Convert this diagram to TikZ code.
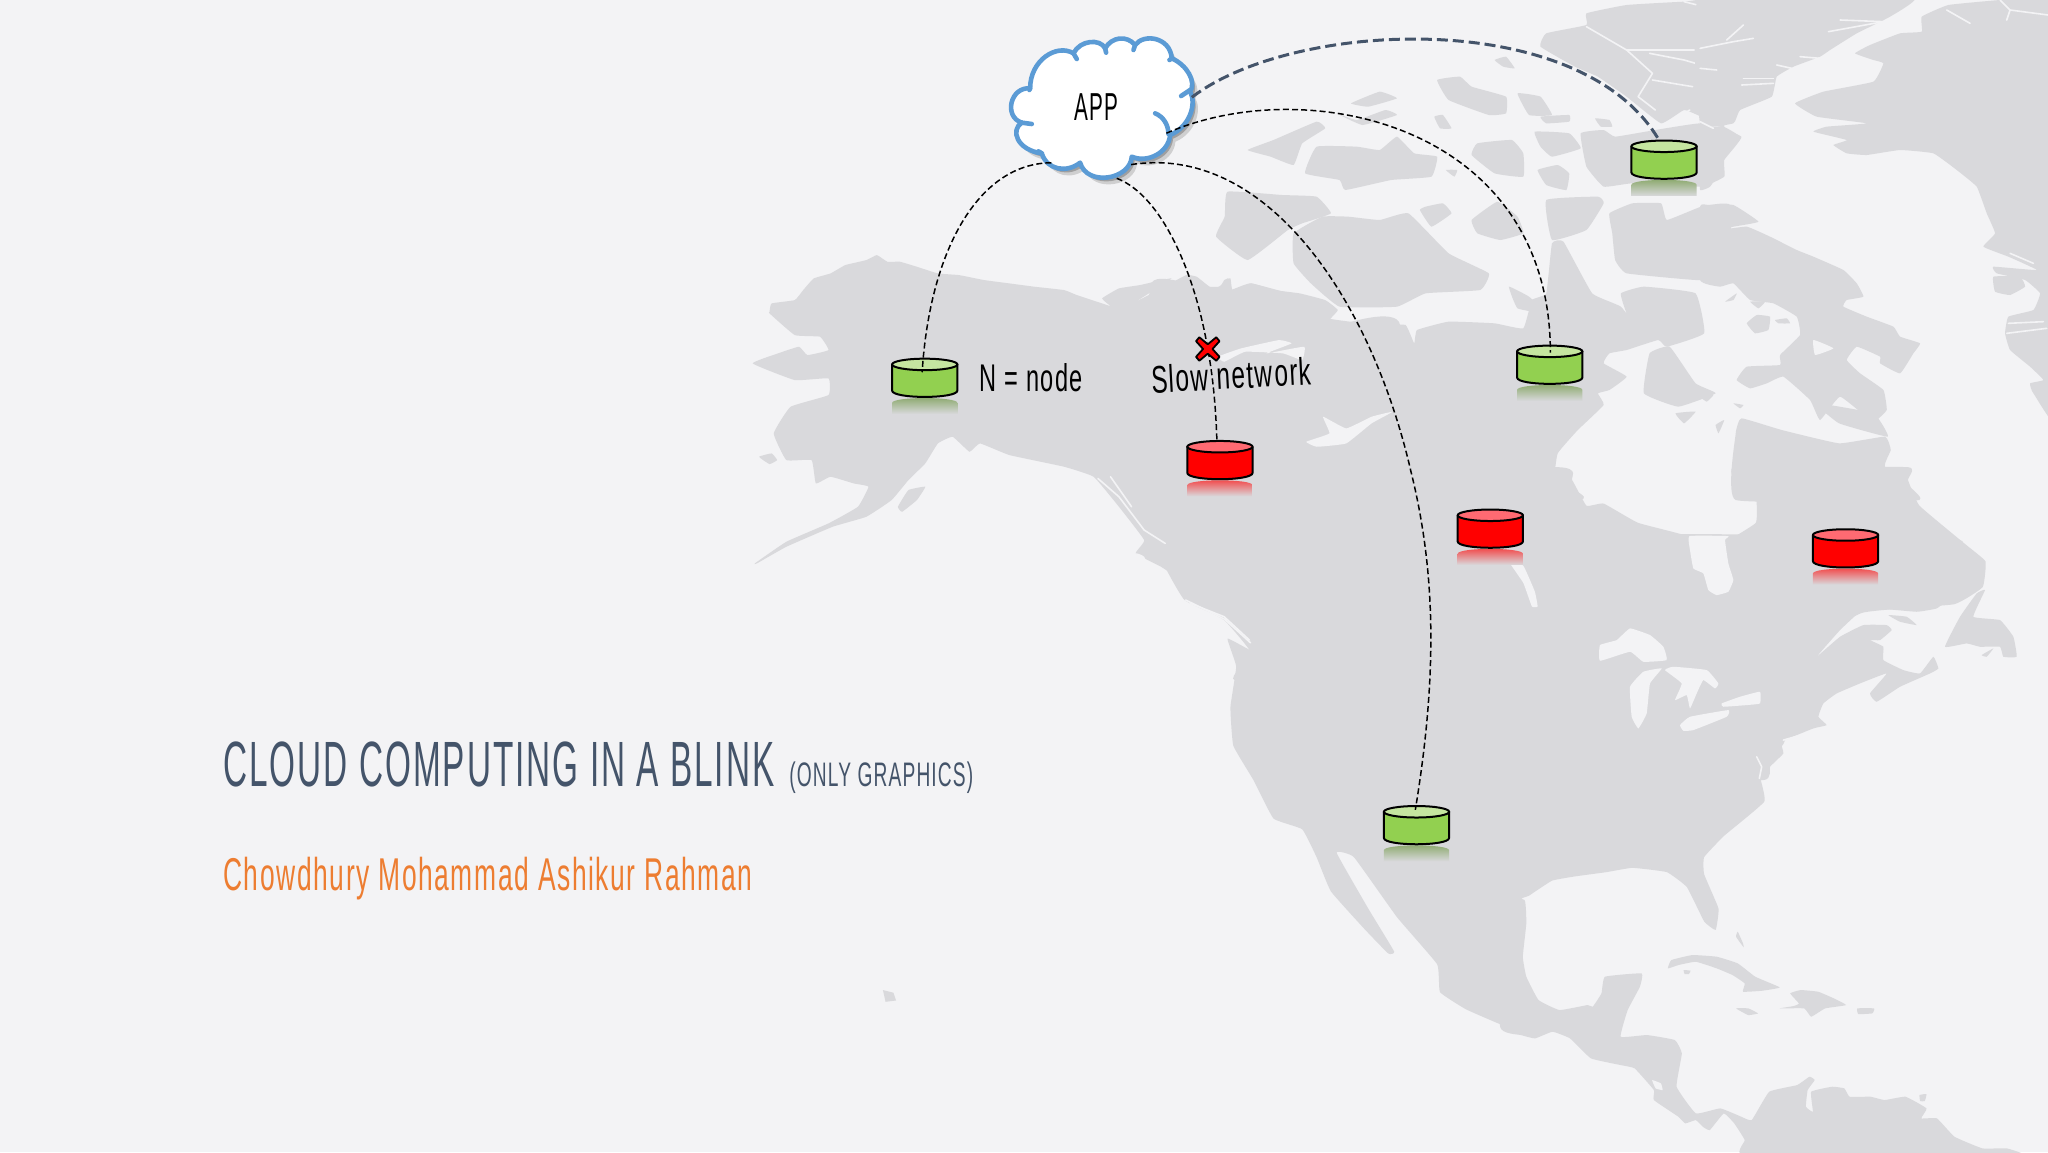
\documentclass[tikz,border=0pt]{standalone}
\usepackage{fontspec}
\usepackage{graphicx}
\setmainfont[LetterSpace=6]{Liberation Sans}
\definecolor{bgc}{HTML}{F3F3F5}
\definecolor{landc}{HTML}{D9D9DC}
\definecolor{slatec}{HTML}{44546A}
\definecolor{orangec}{HTML}{ED7D31}
\definecolor{cloudc}{HTML}{5B9BD5}
\definecolor{greenc}{HTML}{92D050}
\definecolor{greent}{HTML}{C5E5A0}
\definecolor{redc}{HTML}{FF0000}
\definecolor{redt}{HTML}{FF6A72}
\tikzset{
  land/.style={fill=landc},
  water/.style={fill=bgc},
  chan/.style={draw=bgc,line width=0.8pt,line cap=round,line join=round},
  cropA/.style={shift={(566.6,168.5)},xscale=.3223,yscale=.2552},
  cropB/.style={shift={(880.5,0)},xscale=.4396,yscale=.2552},
  cropC/.style={shift={(880.5,367.5)},xscale=.4396,yscale=.3281},
  cropD/.style={shift={(1301.6,0)},xscale=.2552,yscale=.2552},
  cropE/.style={shift={(750.4,7.66)},xscale=.2552,yscale=.2552},
  cropF/.style={shift={(1148.5,689.1)},xscale=.2676,yscale=.2552},
  cropG/.style={shift={(1225,413.5)},xscale=.2552,yscale=.2552},
  lbl/.style={inner sep=0pt,anchor=base west,text=black},
  thinlink/.style={draw=black,line width=0.75pt,dash pattern=on 3pt off 1.6pt},
  thicklink/.style={draw=slatec,line width=1.5pt,dash pattern=on 5.5pt off 2.5pt},
  cylbody/.style={draw=black,line width=1pt,line join=round},
}
\newcommand{\lnd}[1]{\fill[land] plot[smooth cycle,tension=.2] coordinates {#1};}
\newcommand{\wtr}[1]{\fill[water] plot[smooth cycle,tension=.2] coordinates {#1};}
\newcommand{\dbcyl}[6]{% name,x,y,fill,top,reflection
  \begin{scope}[shift={(#2,#3)}]
    \shade[top color=#6,bottom color=landc,draw=none]
      (-25,33) -- (-25,29.5) .. controls (-25,24.5) and (25,24.5) .. (25,29.5) -- (25,33) -- (25,38) -- (-25,38) -- cycle;
    \filldraw[cylbody,fill=#4] (-25,0) -- (-25,20) .. controls (-25,26.5) and (25,26.5) .. (25,20) -- (25,0) -- cycle;
    \filldraw[cylbody,fill=#5] (0,0) ellipse (25 and 4.4);
    \node[inner sep=0pt,minimum width=32.6pt,minimum height=19.6pt] (#1) at (0,11) {};
  \end{scope}}
\newcommand{\cloudshape}{(150,235) .. controls (150,150) and (230,100) .. (280,130)
  .. controls (300,90) and (360,85) .. (375,115)
  .. controls (395,80) and (440,75) .. (465,105)
  .. controls (490,70) and (570,80) .. (575,145)
  .. controls (620,165) and (650,215) .. (630,245)
  .. controls (650,280) and (630,350) .. (570,375)
  .. controls (565,430) and (500,460) .. (455,440)
  .. controls (450,510) and (320,530) .. (300,458)
  .. controls (260,490) and (200,480) .. (185,430)
  .. controls (110,420) and (90,360) .. (125,338)
  .. controls (70,320) and (90,230) .. (150,235) -- cycle}
\begin{document}
\begin{tikzpicture}[x=0.65306pt,y=-0.65306pt]
\useasboundingbox (0,0) rectangle (1568,882);
\fill[bgc] (0,0) rectangle (1568,882);
\clip (0,0) rectangle (1568,882);
% ---------- Alaska and the north west
\begin{scope}[cropA]
\lnd{(70,275)(75,250)(130,240)(150,210)(175,175)(215,160)(250,135)(300,120)(325,105)(350,125)(380,125)(420,140)(470,160)(520,165)(580,180)(640,190)(700,200)(770,210)(800,225)(860,250)(880,258)(860,235)(900,205)(950,195)(1025,175)(940,245)(1000,205)(1060,165)(1085,170)(1110,195)(1135,215)(1150,180)(1165,175)(1170,210)(1215,190)(1270,210)(1330,220)(1390,240)(1420,270)(1400,300)(1420,315)(1568,315)(1568,1380)(1175,1380)(1215,1300)(1150,1200)(1060,1140)(1070,1100)(1000,1040)(940,1000)(960,960)(900,860)(840,770)(770,740)(640,705)(570,670)(545,695)(505,650)(470,670)(440,730)(400,780)(360,840)(300,890)(220,920)(110,980)(40,1030)(35,1030)(110,965)(210,910)(280,860)(305,800)(270,790)(215,770)(180,790)(170,720)(110,720)(80,640)(120,560)(210,525)(210,475)(130,480)(30,430)(90,400)(140,380)(160,405)(210,390)(190,350)(130,345)(70,280)}
\lnd{(45,710)(75,700)(88,720)(70,732)}
\lnd{(375,860)(400,810)(440,800)(420,840)(385,875)}
\end{scope}
% ---------- Arctic islands and the north of the mainland
\begin{scope}[cropB]
\lnd{(0,1500)(0,860)(40,840)(75,860)(120,860)(135,835)(140,870)(175,850)(250,885)(310,955)(400,975)(445,975)(460,1030)(465,990)(520,965)(600,970)(650,985)(665,900)(690,880)(700,730)(720,725)(770,880)(820,920)(855,1000)(830,940)(820,880)(860,860)(950,880)(965,1000)(900,1040)(885,1020)(830,1050)(800,1060)(790,1090)(830,1130)(800,1170)(780,1180)(790,1215)(745,1290)(710,1360)(705,1440)(745,1500)}
\lnd{(1020,1500)(1020,1300)(1030,1255)(1100,1290)(1200,1330)(1280,1310)(1290,1350)(1280,1400)(1340,1500)}
\lnd{(170,450)(215,420)(290,365)(305,385)(265,430)(250,495)(210,470)}
\lnd{(270,520)(290,440)(360,440)(400,450)(430,410)(460,460)(500,470)(490,530)(420,540)(340,570)(330,540)}
\lnd{(350,310)(400,275)(430,295)(380,320)}
\lnd{(325,340)(360,360)(410,330)(430,345)(370,375)}
\lnd{(500,240)(540,230)(560,260)(620,290)(620,340)(590,345)(520,300)}
\lnd{(640,280)(680,290)(700,345)(660,345)}
\lnd{(600,180)(620,170)(635,205)(615,200)}
\lnd{(680,350)(730,345)(730,365)(690,370)}
\lnd{(495,350)(510,345)(525,385)(505,385)}
\lnd{(775,355)(800,360)(805,380)(785,380)}
\lnd{(670,395)(730,400)(750,445)(700,470)(680,440)}
\lnd{(570,430)(630,420)(650,460)(650,530)(600,520)(560,465)}
\lnd{(515,510)(535,510)(530,530)}
\lnd{(675,510)(710,495)(730,520)(725,570)(690,555)}
\lnd{(135,575)(230,585)(290,590)(315,640)(265,670)(240,690)(170,780)(115,710)(130,650)}
\lnd{(250,700)(300,650)(345,650)(400,660)(450,640)(520,760)(590,820)(575,870)(480,880)(430,920)(330,920)(280,850)(250,790)}
\lnd{(480,620)(510,610)(525,640)(490,680)(470,630)}
\lnd{(560,660)(605,605)(640,650)(650,700)(610,720)(570,700)}
\lnd{(690,600)(780,590)(790,610)(760,690)(700,720)}
\lnd{(625,860)(660,890)(690,940)(640,925)}
\lnd{(870,1060)(905,1040)(950,1150)(985,1180)(920,1220)(860,1180)}
\lnd{(915,1240)(950,1235)(930,1270)}
\lnd{(985,1275)(1000,1260)(990,1300)}
\lnd{(800,640)(840,610)(890,610)(900,660)(960,620)(1010,615)(1010,830)(950,840)(830,820)(810,780)(805,700)}
\lnd{(1160,1210)(1260,1240)(1285,1310)(1200,1270)}
\lnd{(690,100)(760,75)(760,40)(830,15)(930,5)(1000,5)(1000,380)(960,350)(930,330)(890,370)(830,290)(780,230)(740,200)(680,140)}
\lnd{(810,410)(880,390)(960,370)(1030,410)(1000,480)(1000,530)(960,560)(840,550)(790,560)(760,500)(750,400)(790,390)}
\draw[chan] (760,80) -- (830,150) -- (875,220) -- (850,290) -- (880,330);
\draw[chan] (830,150) -- (870,150) -- (950,150) -- (1050,110);
\draw[chan] (870,160) -- (930,180) -- (990,210);
\draw[chan] (875,240) -- (945,260);
\draw[chan] (930,5) -- (1000,35);
\draw[chan] (920,350) -- (940,330);
\draw[chan] (960,370) -- (1010,390);
\end{scope}
% ---------- Greenland, Ellesmere and Baffin east side
\begin{scope}[cropD]
\lnd{(285,310)(370,275)(520,245)(550,190)(520,180)(465,160)(510,135)(600,100)(665,95)(665,50)(745,15)(900,0)(1100,-10)(1100,1280)(1000,1180)(990,1150)(1030,1140)(990,1100)(930,1050)(915,1000)(925,950)(1000,930)(1020,880)(975,840)(890,820)(880,800)(1010,810)(925,770)(850,740)(885,700)(860,640)(830,560)(770,510)(700,460)(600,450)(500,465)(440,460)(400,435)(440,420)(340,395)(380,380)(500,370)(350,350)}
\lnd{(880,830)(960,830)(975,860)(930,885)(885,875)}
\lnd{(0,-10)(640,-10)(570,50)(470,100)(390,150)(360,170)(280,200)(230,230)(215,290)(120,330)(100,370)(0,370)}
\lnd{(0,385)(70,380)(120,410)(80,440)(0,455)}
\lnd{(0,490)(60,510)(30,560)(0,570)}
\lnd{(25,615)(100,615)(175,665)(100,680)(60,690)(140,680)(210,710)(290,750)(340,770)(430,810)(470,850)(490,890)(440,900)(430,920)(500,950)(580,980)(600,1010)(660,1030)(640,1060)(600,1120)(540,1090)(540,1070)(470,1040)(440,1080)(480,1120)(550,1170)(560,1230)(530,1260)(510,1260)(420,1190)(360,1260)(330,1200)(250,1130)(200,1150)(150,1165)(110,1140)(140,1100)(240,1095)(240,1065)(300,1005)(290,950)(220,910)(150,900)(100,850)(60,860)(0,840)(0,620)}
\wtr{(340,1020)(400,1045)(345,1065)}
\lnd{(140,970)(170,945)(210,950)(205,990)(165,1000)}
\lnd{(225,960)(260,955)(270,970)(235,970)}
\lnd{(0,1190)(40,1185)(20,1205)}
\lnd{(100,1210)(130,1215)(120,1225)}
\lnd{(75,905)(110,880)(100,900)}
\lnd{(150,905)(195,905)(175,925)}
\draw[chan] (0,145) -- (100,125) -- (160,115);
\draw[chan] (80,120) -- (130,75);
\draw[chan] (0,205) -- (50,210);
\draw[chan] (385,95) -- (550,65);
\draw[chan] (420,60) -- (550,65);
\draw[chan] (130,235) -- (220,235);
\draw[chan] (125,255) -- (220,250);
\draw[chan] (900,0) -- (930,30) -- (1044,45);
\draw[chan] (920,60) -- (930,30);
\draw[chan] (740,30) -- (810,70);
\draw[chan] (300,170) -- (360,175);
\draw[chan] (230,195) -- (275,205);
\draw[chan] (0,365) -- (40,385);
\draw[chan] (930,760) -- (1000,790);
\draw[chan] (925,970) -- (1030,965);
\draw[chan] (920,1000) -- (1040,985);
\end{scope}
% ---------- mainland south of Hudson Bay, western and central part
\begin{scope}[cropC]
\lnd{(0,-30)(710,-30)(735,0)(760,60)(790,55)(850,100)(945,135)(945,195)(980,260)(1010,265)(1015,220)(1000,150)(1055,100)(1055,40)(1020,0)(1020,-30)(1320,-30)(1320,0)(1340,60)(1420,150)(1455,190)(1450,250)(1400,290)(1240,310)(1100,420)(1105,610)(1070,660)(1060,680)(1070,750)(1000,830)(965,880)(965,920)(990,1000)(985,1050)(965,1030)(935,950)(900,915)(840,905)(795,915)(740,925)(700,935)(660,970)(640,990)(620,1270)(610,1270)(550,1235)(505,1195)(500,1130)(430,1020)(355,880)(325,870)(380,1000)(425,1100)(415,1105)(375,1050)(315,960)(290,880)(265,815)(215,790)(180,700)(145,620)(140,530)(150,435)(135,370)(180,400)(175,350)(60,280)(0,130)}
\end{scope}
% ---------- east of North America
\begin{scope}[cropG]
\lnd{(0,0)(1050,0)(1085,10)(1150,70)(1150,130)(1120,150)(1050,175)(1010,205)(950,215)(830,205)(780,215)(720,270)(650,350)(720,290)(790,255)(860,255)(875,270)(840,300)(810,300)(850,320)(850,360)(910,390)(960,400)(1000,350)(1015,385)(990,400)(900,440)(830,485)(810,460)(860,400)(780,430)(710,460)(670,490)(655,530)(680,555)(640,565)(545,605)(550,640)(510,680)(490,720)(0,720)}
\wtr{(268,-12)(385,-12)(375,0)(385,70)(400,120)(385,155)(350,165)(325,150)(310,100)(280,85)(270,30)}
\lnd{(865,225)(920,230)(950,255)(900,245)}
\lnd{(1035,320)(1080,230)(1130,160)(1155,150)(1120,230)(1200,240)(1240,290)(1250,350)(1210,350)(1200,320)(1140,320)(1100,310)}
\lnd{(1145,345)(1180,325)(1160,350)}
\end{scope}
% ---------- Central America and the Caribbean
\begin{scope}[cropF]
\lnd{(0,0)(70,0)(75,70)(65,170)(75,230)(110,300)(170,330)(250,315)(265,320)(290,280)(300,230)(405,220)(400,260)(365,330)(345,410)(420,405)(500,420)(520,460)(505,560)(560,640)(630,625)(690,650)(720,660)(770,575)(850,555)(885,530)(900,540)(880,570)(875,620)(895,635)(890,575)(950,560)(985,565)(1000,590)(1060,590)(1100,600)(1160,590)(1220,625)(1205,655)(1250,655)(1300,710)(1380,745)(1450,745)(1490,770)(705,770)(700,720)(670,670)(640,640)(600,690)(580,680)(560,660)(530,670)(510,650)(440,600)(440,570)(385,505)(345,495)(260,475)(200,415)(150,395)(100,415)(60,405)(0,380)}
\lnd{(480,205)(490,180)(550,165)(620,170)(680,190)(730,230)(800,262)(750,272)(695,275)(700,250)(665,225)(620,205)(560,185)(510,195)}
\lnd{(525,210)(545,212)(540,222)(528,222)}
\lnd{(830,280)(860,270)(910,275)(955,295)(990,315)(930,325)(890,350)(870,325)(800,325)(840,318)(855,310)}
\lnd{(675,325)(710,325)(738,340)(710,345)}
\lnd{(1022,325)(1070,325)(1065,340)(1025,342)}
\lnd{(680,95)(695,130)(697,142)(675,110)}
\lnd{(1200,585)(1220,582)(1215,603)(1202,603)}
\wtr{(435,540)(460,550)(465,570)(445,565)}
\end{scope}
\fill[landc] (676,758) -- (684,760) -- (686,766) -- (678,767) -- cycle;
% ---------- lakes and inlets over all land
\begin{scope}[cropA]
\wtr{(940,1000)(960,1010)(985,1085)(960,1050)}
\wtr{(1135,410)(1190,385)(1280,360)(1310,370)(1250,400)(1340,380)(1335,420)(1290,400)(1200,395)(1150,425)}
\wtr{(1345,665)(1400,640)(1385,590)(1440,625)(1500,590)(1550,575)(1500,610)(1440,670)(1370,680)}
\draw[chan] (850,775) -- (900,830) -- (960,930) -- (1010,970);
\draw[chan] (880,770) -- (930,860);
\draw[chan] (1070,1150) -- (1150,1190) -- (1210,1260);
\end{scope}
\begin{scope}[cropC]
\wtr{(625,190)(650,200)(670,260)(675,295)(665,295)(650,240)}
\draw[chan] (62,280) -- (130,325) -- (175,380);
\end{scope}
\begin{scope}[cropG]
\wtr{(0,315)(50,300)(90,265)(150,285)(190,320)(200,360)(130,365)(90,335)(0,362)}
\wtr{(90,440)(130,395)(185,385)(150,430)(140,520)(115,565)(95,530)}
\wtr{(195,390)(220,380)(320,390)(355,430)(345,445)(310,420)(290,460)(270,505)(260,465)(225,480)(245,430)}
\wtr{(240,555)(270,530)(385,510)(380,530)(280,570)(250,572)}
\wtr{(365,490)(420,470)(480,455)(480,490)(440,495)(370,500)}
\draw[chan] (470,650) -- (485,680) -- (478,715);
\draw[chan] (550,600) -- (620,580);
\end{scope}
% ---------- cloud
\begin{scope}[cropE]
\fill[black!45,opacity=.35,shift={(16,20)}] \cloudshape;
\fill[black!60,opacity=.45,shift={(9,11)}] \cloudshape;
\filldraw[fill=white,draw=cloudc,line width=2.3pt,line join=round] \cloudshape;
\draw[draw=cloudc,line width=2.3pt,line cap=round]
  (525,310) .. controls (550,320) and (565,345) .. (565,372)
  (630,240) -- (603,258)
  (280,130) -- (290,147)
  (375,115) -- (378,128)
  (465,105) -- (460,120)
  (575,145) -- (568,150)
  (125,338) -- (155,342)
  (150,235) -- (148,240)
  (185,430) -- (175,424);
\end{scope}
\node[lbl] (apptext) at (822.6,91.9) {\resizebox{22pt}{\height}{\fontsize{19.5}{20}\selectfont APP}};
\coordinate (cloudA) at (912.5,74.5);
\coordinate (cloudB) at (893,102);
\coordinate (cloudC) at (866,126);
\coordinate (cloudD) at (805,124.6);
\coordinate (cloudE) at (855,136.5);
% ---------- nodes
\dbcyl{gA}{708}{279}{greenc}{greent}{greenc!70!black!70!landc}
\dbcyl{gB}{1274}{112}{greenc}{greent}{greenc!70!black!70!landc}
\dbcyl{gC}{1186.5}{269}{greenc}{greent}{greenc!70!black!70!landc}
\dbcyl{gD}{1084.5}{621.5}{greenc}{greent}{greenc!70!black!70!landc}
\dbcyl{rA}{934}{342}{redc}{redt}{redc!70!landc}
\dbcyl{rB}{1141}{394.5}{redc}{redt}{redc!70!landc}
\dbcyl{rC}{1413}{409.6}{redc}{redt}{redc!70!landc}
\coordinate (gAin) at (706,285);
\coordinate (gBin) at (1270,107);
\coordinate (gCin) at (1187,270);
\coordinate (gDin) at (1083.6,620);
\coordinate (rAin) at (931.7,338);
\coordinate (xmark) at (924.7,267.2);
\coordinate (bendC) at (1080,360);
% ---------- texts
\node[lbl,text=slatec] (title) at (170.7,601.8) {\resizebox{275.5pt}{\height}{\fontsize{32}{34}\selectfont CLOUD COMPUTING IN A BLINK}};
\node[lbl,text=slatec] (subtitle) at (604,601.8) {\resizebox{92pt}{\height}{\fontsize{17}{18}\selectfont (ONLY GRAPHICS)}};
\node[lbl,text=orangec] (author) at (170.7,681.5) {\resizebox{264.5pt}{\height}{\fontsize{23}{25}\selectfont Chowdhury Mohammad Ashikur Rahman}};
\node[lbl] (legend) at (749.6,299.4) {\resizebox{51.7pt}{\height}{\fontsize{19.3}{20}\selectfont N = node}};
\node[lbl,rotate=3] (slow) at (881.8,301) {\resizebox{80pt}{\height}{\fontsize{19.3}{20}\selectfont Slow network}};
% ---------- connectors
\draw[thicklink] (cloudA) .. controls (990,15) and (1210,5) .. (gBin);
\draw[thinlink] (cloudB) .. controls (1000,55) and (1187,95) .. (gCin);
\draw[thinlink] (cloudC) .. controls (970,110) and (1050,230) .. (bendC) .. controls (1100,440) and (1100,520) .. (gDin);
\draw[thinlink] (cloudD) .. controls (750,125) and (712,190) .. (gAin);
\draw[thinlink] (cloudE) .. controls (890,150) and (915,210) .. (xmark) .. controls (929,290) and (931,315) .. (rAin);
\filldraw[fill=redc,draw=black,line width=0.9pt,line join=round,shift={(xmark)}]
  (-6.5,-9) -- (0,-3.6) -- (6.5,-9) -- (9,-6) -- (3.6,0) -- (9,6) -- (6.5,9) -- (0,3.6) -- (-6.5,9) -- (-9,6) -- (-3.6,0) -- (-9,-6) -- cycle;
\end{tikzpicture}
\end{document}
